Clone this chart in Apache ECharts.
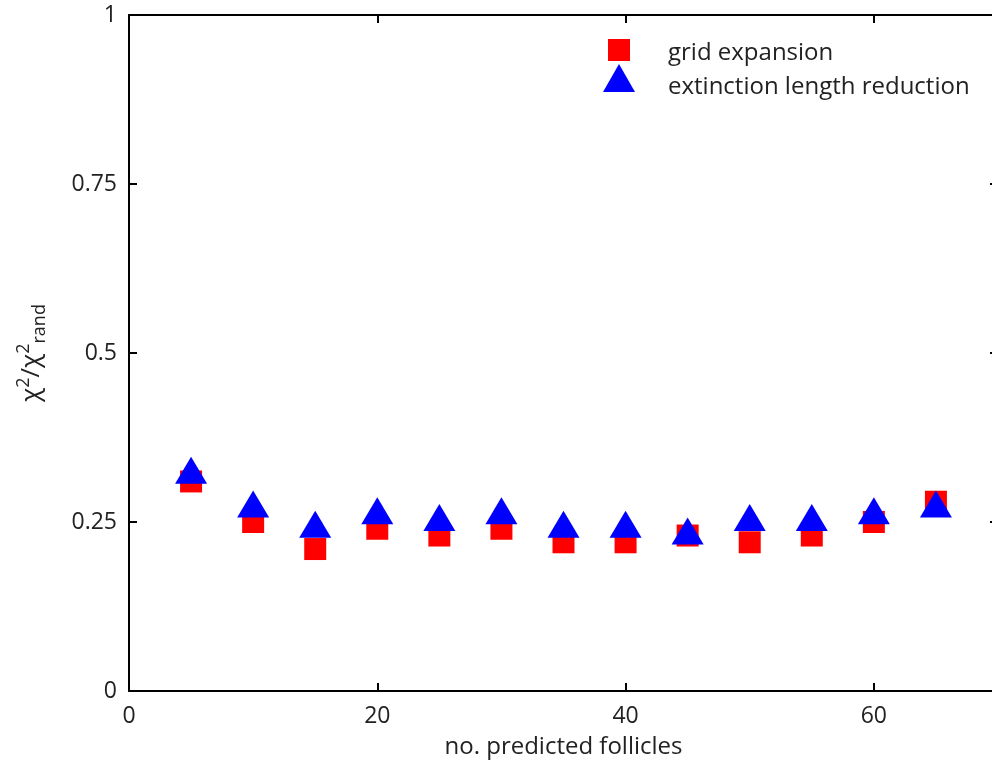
<!DOCTYPE html>
<html>
<head>
<meta charset="utf-8">
<script src="https://cdn.jsdelivr.net/npm/echarts@6/dist/echarts.min.js"></script>
<style>
  html, body { margin: 0; padding: 0; background: #fff; }
  #main { width: 992px; height: 763px; }
</style>
</head>
<body>
<div id="main"></div>
<script>
// number of predicted follicles
var follicles = [5, 10, 15, 20, 25, 30, 35, 40, 45, 50, 55, 60, 65];
// chi^2 / chi^2_rand
var gridExpansion = [0.31, 0.25, 0.21, 0.24, 0.23, 0.24, 0.22, 0.22, 0.23, 0.22, 0.23, 0.25, 0.28];
var extinctionReduction = [0.32, 0.27, 0.24, 0.26, 0.25, 0.26, 0.24, 0.24, 0.23, 0.25, 0.25, 0.26, 0.27];
var seriesNames = ['grid expansion', 'extinction length reduction'];

var FONT = 'Open Sans';

function pairs(ys) {
  return follicles.map(function (x, i) { return [x, ys[i]]; });
}
function line() { return { show: true, onZero: false, lineStyle: { color: '#000', width: 2 } }; }
function tick() { return { show: true, inside: true, length: 8, lineStyle: { color: '#000', width: 2 } }; }
function legendText(padTop, padLeft) {
  return {
    fontFamily: FONT, fontSize: 24, color: '#222',
    rich: { t: { fontFamily: FONT, fontSize: 24, color: '#222', padding: [padTop, 0, 0, padLeft] } }
  };
}

var myChart = echarts.init(document.getElementById('main'));

myChart.setOption({
  animation: false,
  backgroundColor: '#fff',
  // plot box runs a little past the right edge of the picture
  grid: { left: 129, top: 15, width: 869, height: 676, outerBoundsMode: 'none', containLabel: false },
  legend: [
    {
      data: [seriesNames[0]],
      left: 608, top: 39, padding: 0,
      itemWidth: 22, itemHeight: 22,
      icon: 'rect',
      selectedMode: false,
      formatter: '{t|{name}}',
      textStyle: legendText(6, 33)
    },
    {
      data: [seriesNames[1]],
      left: 603, top: 64, padding: 0,
      itemWidth: 32, itemHeight: 28,
      icon: 'triangle',
      selectedMode: false,
      formatter: '{t|{name}}',
      textStyle: legendText(18, 28)
    }
  ],
  xAxis: [
    {
      type: 'value', min: 0, max: 70, interval: 20, position: 'bottom',
      name: 'no. predicted follicles',
      nameLocation: 'middle', nameGap: 44,
      nameTextStyle: { fontFamily: FONT, fontSize: 24, color: '#222' },
      axisLine: line(), axisTick: tick(),
      axisLabel: { fontFamily: FONT, fontSize: 23, color: '#222', margin: 14, showMaxLabel: false },
      splitLine: { show: false }
    },
    {
      type: 'value', min: 0, max: 70, interval: 20, position: 'top',
      axisLine: line(), axisTick: tick(),
      axisLabel: { show: false }, splitLine: { show: false }
    }
  ],
  yAxis: [
    {
      type: 'value', min: 0, max: 1, interval: 0.25, position: 'left',
      name: '{n|χ}{sup|2}{n|/χ}{sup|2}{sub|rand}',
      nameLocation: 'middle', nameRotate: 90, nameGap: 80,
      nameTextStyle: {
        fontFamily: FONT, color: '#222',
        rich: {
          n: { fontFamily: FONT, fontSize: 26, lineHeight: 34, color: '#222' },
          sup: { fontFamily: FONT, fontSize: 18, lineHeight: 18, verticalAlign: 'top', color: '#222' },
          sub: { fontFamily: FONT, fontSize: 18, lineHeight: 18, verticalAlign: 'bottom', color: '#222' }
        }
      },
      axisLine: line(), axisTick: tick(),
      axisLabel: { fontFamily: FONT, fontSize: 23, color: '#222', margin: 12 },
      splitLine: { show: false }
    },
    {
      type: 'value', min: 0, max: 1, interval: 0.25, position: 'right',
      axisLine: line(), axisTick: tick(),
      axisLabel: { show: false }, splitLine: { show: false }
    }
  ],
  series: [
    {
      name: seriesNames[0],
      type: 'scatter',
      symbol: 'rect',
      symbolSize: 22,
      itemStyle: { color: '#ff0000', opacity: 1 },
      data: pairs(gridExpansion),
      z: 2
    },
    {
      name: seriesNames[1],
      type: 'scatter',
      symbol: 'triangle',
      symbolSize: [32, 27],
      symbolOffset: [0, -4.5],
      itemStyle: { color: '#0000ff', opacity: 1 },
      data: pairs(extinctionReduction),
      z: 3
    },
    // empty series so the mirrored top and right axes are drawn
    { type: 'scatter', xAxisIndex: 1, yAxisIndex: 1, data: [], silent: true }
  ]
});
</script>
</body>
</html>
